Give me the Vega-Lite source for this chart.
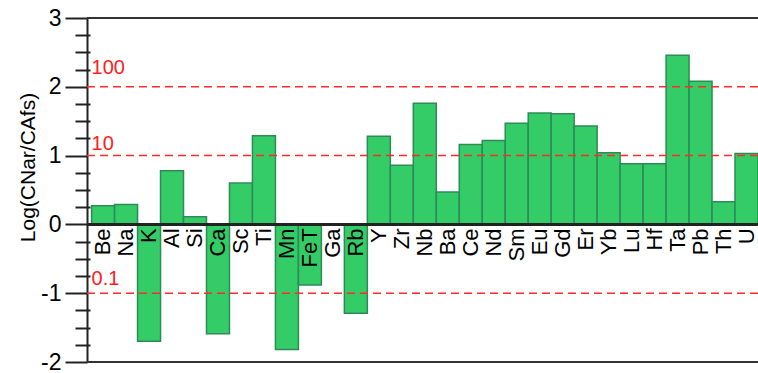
{
  "$schema": "https://vega.github.io/schema/vega-lite/v6.json",
  "width": 671,
  "height": 344,
  "autosize": {"type": "none"},
  "padding": {"left": 87, "top": 18, "right": 0, "bottom": 11},
  "background": "white",
  "config": {"font": "Liberation Sans", "view": {"stroke": null}},
  "datasets": {
    "elements": [
      {"element": "Be", "value": 0.27},
      {"element": "Na", "value": 0.29},
      {"element": "K", "value": -1.70},
      {"element": "Al", "value": 0.78},
      {"element": "Si", "value": 0.11},
      {"element": "Ca", "value": -1.59},
      {"element": "Sc", "value": 0.60},
      {"element": "Ti", "value": 1.29},
      {"element": "Mn", "value": -1.82},
      {"element": "FeT", "value": -0.88},
      {"element": "Ga", "value": null},
      {"element": "Rb", "value": -1.29},
      {"element": "Y", "value": 1.28},
      {"element": "Zr", "value": 0.86},
      {"element": "Nb", "value": 1.76},
      {"element": "Ba", "value": 0.47},
      {"element": "Ce", "value": 1.16},
      {"element": "Nd", "value": 1.22},
      {"element": "Sm", "value": 1.47},
      {"element": "Eu", "value": 1.62},
      {"element": "Gd", "value": 1.61},
      {"element": "Er", "value": 1.43},
      {"element": "Yb", "value": 1.04},
      {"element": "Lu", "value": 0.88},
      {"element": "Hf", "value": 0.88},
      {"element": "Ta", "value": 2.46},
      {"element": "Pb", "value": 2.08},
      {"element": "Th", "value": 0.33},
      {"element": "U", "value": 1.03}
    ],
    "refs": [
      {"level": 2, "label": "100"},
      {"level": 1, "label": "10"},
      {"level": -1, "label": "0.1"}
    ]
  },
  "resolve": {"axis": {"y": "independent"}},
  "layer": [
    {
      "data": {"name": "elements"},
      "mark": {"type": "bar", "fill": "#33cc66", "stroke": "#2e8b57", "strokeWidth": 1.5},
      "encoding": {
        "x": {
          "field": "element", "type": "nominal", "sort": null,
          "scale": {
            "domain": ["Be","Na","K","Al","Si","Ca","Sc","Ti","Mn","FeT","Ga","Rb","Y","Zr","Nb","Ba","Ce","Nd","Sm","Eu","Gd","Er","Yb","Lu","Hf","Ta","Pb","Th","U"],
            "paddingInner": 0, "paddingOuter": 0.1, "align": 1
          },
          "axis": null
        },
        "y": {
          "field": "value", "type": "quantitative",
          "scale": {"domain": [-2, 3], "nice": false, "zero": true},
          "axis": {
            "orient": "left",
            "title": "Log(CNar/CAfs)",
            "titleFontSize": 21,
            "titleFontWeight": "normal",
            "titleColor": "black",
            "titlePadding": 2,
            "titleY": 149,
            "values": [-2, -1, 0, 1, 2, 3],
            "labelExpr": "'' + datum.value",
            "labelOverlap": false,
            "labelFontSize": 23,
            "labelColor": "black",
            "labelPadding": 4,
            "tickSize": 22,
            "tickColor": "#222222",
            "tickWidth": 2,
            "domainColor": "#222222",
            "domainWidth": 2,
            "grid": false
          }
        }
      }
    },
    {
      "data": {"name": "refs"},
      "mark": {"type": "rule", "stroke": "#ff2a2a", "strokeWidth": 1.5, "strokeDash": [8, 5]},
      "encoding": {"y": {"field": "level", "type": "quantitative", "axis": null}}
    },
    {
      "data": {"name": "elements"},
      "mark": {"type": "rule", "stroke": "#222222", "strokeWidth": 2},
      "encoding": {
        "y": {
          "datum": 0, "type": "quantitative",
          "axis": {
            "orient": "left",
            "title": null,
            "values": [-1.75,-1.5,-1.25,-0.75,-0.5,-0.25,0.25,0.5,0.75,1.25,1.5,1.75,2.25,2.5,2.75],
            "labels": false,
            "domain": false,
            "grid": false,
            "offset": -3,
            "tickSize": 15,
            "tickColor": "#222222",
            "tickWidth": 2
          }
        }
      }
    },
    {
      "data": {"name": "elements"},
      "mark": {"type": "rule", "stroke": "#333333", "strokeWidth": 2},
      "encoding": {"y": {"datum": 3, "axis": null}}
    },
    {
      "data": {"name": "elements"},
      "mark": {"type": "rule", "stroke": "#333333", "strokeWidth": 2},
      "encoding": {"y": {"datum": -2, "axis": null}}
    },
    {
      "data": {"name": "elements"},
      "mark": {"type": "text", "angle": 270, "align": "right", "baseline": "middle", "dx": -4, "fontSize": 22, "color": "black"},
      "encoding": {
        "x": {"field": "element", "type": "nominal", "sort": null},
        "y": {"datum": 0, "axis": null},
        "text": {"field": "element"}
      }
    },
    {
      "data": {"name": "refs"},
      "transform": [{"filter": "datum.level === 2"}],
      "mark": {"type": "text", "align": "left", "baseline": "alphabetic", "dy": -12.5, "fontSize": 20, "color": "#ff2020"},
      "encoding": {
        "x": {"datum": "Be", "type": "nominal", "bandPosition": 0},
        "y": {"field": "level", "type": "quantitative", "axis": null},
        "text": {"field": "label"}
      }
    },
    {
      "data": {"name": "refs"},
      "transform": [{"filter": "datum.level === 1"}],
      "mark": {"type": "text", "align": "left", "baseline": "alphabetic", "dy": -5.5, "fontSize": 20, "color": "#ff2020"},
      "encoding": {
        "x": {"datum": "Be", "type": "nominal", "bandPosition": 0},
        "y": {"field": "level", "type": "quantitative", "axis": null},
        "text": {"field": "label"}
      }
    },
    {
      "data": {"name": "refs"},
      "transform": [{"filter": "datum.level === -1"}],
      "mark": {"type": "text", "align": "left", "baseline": "alphabetic", "dy": -8, "fontSize": 20, "color": "#ff2020"},
      "encoding": {
        "x": {"datum": "Be", "type": "nominal", "bandPosition": 0},
        "y": {"field": "level", "type": "quantitative", "axis": null},
        "text": {"field": "label"}
      }
    }
  ]
}
